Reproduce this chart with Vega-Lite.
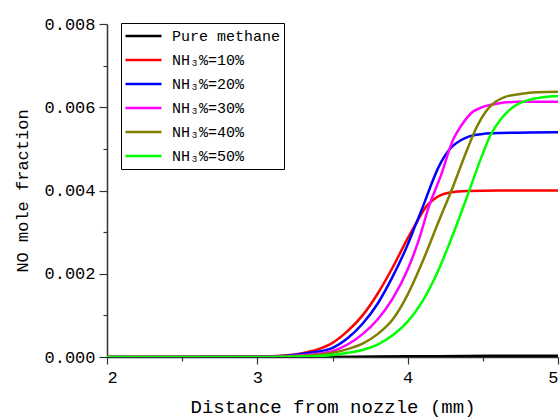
{
  "$schema": "https://vega.github.io/schema/vega-lite/v6.json",
  "width": 451,
  "height": 333,
  "autosize": "none",
  "padding": {"left": 107, "top": 24, "right": 2, "bottom": 60},
  "background": "white",
  "config": {"view": {"stroke": null}, "font": "Liberation Mono"},
  "data": {"values": [
    {"s": "Pure methane", "x": 2, "y": 0}, {"s": "Pure methane", "x": 3.4, "y": 0.000002}, {"s": "Pure methane", "x": 3.8, "y": 0.00001}, {"s": "Pure methane", "x": 4.2, "y": 0.00002}, {"s": "Pure methane", "x": 4.6, "y": 0.00003}, {"s": "Pure methane", "x": 5, "y": 0.00003},

    {"s": "NH₃%=10%", "x": 2, "y": 0}, {"s": "NH₃%=10%", "x": 3.0, "y": 0.00001}, {"s": "NH₃%=10%", "x": 3.2, "y": 0.00004}, {"s": "NH₃%=10%", "x": 3.3, "y": 0.00009}, {"s": "NH₃%=10%", "x": 3.4, "y": 0.00018}, {"s": "NH₃%=10%", "x": 3.5, "y": 0.00034}, {"s": "NH₃%=10%", "x": 3.6, "y": 0.00062}, {"s": "NH₃%=10%", "x": 3.7, "y": 0.001}, {"s": "NH₃%=10%", "x": 3.8, "y": 0.00152}, {"s": "NH₃%=10%", "x": 3.9, "y": 0.00215}, {"s": "NH₃%=10%", "x": 4.0, "y": 0.00285}, {"s": "NH₃%=10%", "x": 4.07, "y": 0.0033}, {"s": "NH₃%=10%", "x": 4.12, "y": 0.0036}, {"s": "NH₃%=10%", "x": 4.17, "y": 0.00378}, {"s": "NH₃%=10%", "x": 4.22, "y": 0.00389}, {"s": "NH₃%=10%", "x": 4.28, "y": 0.00395}, {"s": "NH₃%=10%", "x": 4.4, "y": 0.00399}, {"s": "NH₃%=10%", "x": 4.6, "y": 0.004}, {"s": "NH₃%=10%", "x": 5, "y": 0.004},

    {"s": "NH₃%=20%", "x": 2, "y": 0}, {"s": "NH₃%=20%", "x": 3.0, "y": 0.000005}, {"s": "NH₃%=20%", "x": 3.2, "y": 0.00003}, {"s": "NH₃%=20%", "x": 3.35, "y": 0.0001}, {"s": "NH₃%=20%", "x": 3.5, "y": 0.00022}, {"s": "NH₃%=20%", "x": 3.6, "y": 0.00045}, {"s": "NH₃%=20%", "x": 3.7, "y": 0.0008}, {"s": "NH₃%=20%", "x": 3.8, "y": 0.00128}, {"s": "NH₃%=20%", "x": 3.9, "y": 0.00193}, {"s": "NH₃%=20%", "x": 4.0, "y": 0.0027}, {"s": "NH₃%=20%", "x": 4.05, "y": 0.00315}, {"s": "NH₃%=20%", "x": 4.1, "y": 0.0036}, {"s": "NH₃%=20%", "x": 4.15, "y": 0.00408}, {"s": "NH₃%=20%", "x": 4.2, "y": 0.00452}, {"s": "NH₃%=20%", "x": 4.25, "y": 0.00485}, {"s": "NH₃%=20%", "x": 4.3, "y": 0.00507}, {"s": "NH₃%=20%", "x": 4.35, "y": 0.0052}, {"s": "NH₃%=20%", "x": 4.41, "y": 0.0053}, {"s": "NH₃%=20%", "x": 4.5, "y": 0.00536}, {"s": "NH₃%=20%", "x": 4.61, "y": 0.00538}, {"s": "NH₃%=20%", "x": 5, "y": 0.0054},

    {"s": "NH₃%=30%", "x": 2, "y": 0}, {"s": "NH₃%=30%", "x": 3.0, "y": 0.000003}, {"s": "NH₃%=30%", "x": 3.2, "y": 0.00002}, {"s": "NH₃%=30%", "x": 3.35, "y": 0.00006}, {"s": "NH₃%=30%", "x": 3.5, "y": 0.00014}, {"s": "NH₃%=30%", "x": 3.6, "y": 0.0003}, {"s": "NH₃%=30%", "x": 3.7, "y": 0.00055}, {"s": "NH₃%=30%", "x": 3.8, "y": 0.0009}, {"s": "NH₃%=30%", "x": 3.9, "y": 0.0014}, {"s": "NH₃%=30%", "x": 4.0, "y": 0.0021}, {"s": "NH₃%=30%", "x": 4.08, "y": 0.00288}, {"s": "NH₃%=30%", "x": 4.14, "y": 0.0036}, {"s": "NH₃%=30%", "x": 4.22, "y": 0.00435}, {"s": "NH₃%=30%", "x": 4.3, "y": 0.0052}, {"s": "NH₃%=30%", "x": 4.36, "y": 0.00558}, {"s": "NH₃%=30%", "x": 4.42, "y": 0.00585}, {"s": "NH₃%=30%", "x": 4.5, "y": 0.00601}, {"s": "NH₃%=30%", "x": 4.6, "y": 0.00609}, {"s": "NH₃%=30%", "x": 4.73, "y": 0.00613}, {"s": "NH₃%=30%", "x": 5, "y": 0.00613},

    {"s": "NH₃%=40%", "x": 2, "y": 0}, {"s": "NH₃%=40%", "x": 3.1, "y": 0.000003}, {"s": "NH₃%=40%", "x": 3.3, "y": 0.00003}, {"s": "NH₃%=40%", "x": 3.5, "y": 0.0001}, {"s": "NH₃%=40%", "x": 3.6, "y": 0.00019}, {"s": "NH₃%=40%", "x": 3.7, "y": 0.00032}, {"s": "NH₃%=40%", "x": 3.8, "y": 0.00055}, {"s": "NH₃%=40%", "x": 3.9, "y": 0.0009}, {"s": "NH₃%=40%", "x": 4.0, "y": 0.0015}, {"s": "NH₃%=40%", "x": 4.1, "y": 0.0023}, {"s": "NH₃%=40%", "x": 4.2, "y": 0.0032}, {"s": "NH₃%=40%", "x": 4.3, "y": 0.00408}, {"s": "NH₃%=40%", "x": 4.4, "y": 0.00502}, {"s": "NH₃%=40%", "x": 4.46, "y": 0.00553}, {"s": "NH₃%=40%", "x": 4.52, "y": 0.0059}, {"s": "NH₃%=40%", "x": 4.58, "y": 0.00612}, {"s": "NH₃%=40%", "x": 4.65, "y": 0.00625}, {"s": "NH₃%=40%", "x": 4.75, "y": 0.00632}, {"s": "NH₃%=40%", "x": 4.86, "y": 0.00636}, {"s": "NH₃%=40%", "x": 5, "y": 0.00637},

    {"s": "NH₃%=50%", "x": 2, "y": 0}, {"s": "NH₃%=50%", "x": 3.1, "y": 0.000002}, {"s": "NH₃%=50%", "x": 3.3, "y": 0.00001}, {"s": "NH₃%=50%", "x": 3.5, "y": 0.00005}, {"s": "NH₃%=50%", "x": 3.6, "y": 0.0001}, {"s": "NH₃%=50%", "x": 3.7, "y": 0.00017}, {"s": "NH₃%=50%", "x": 3.8, "y": 0.0003}, {"s": "NH₃%=50%", "x": 3.9, "y": 0.00052}, {"s": "NH₃%=50%", "x": 4.0, "y": 0.00085}, {"s": "NH₃%=50%", "x": 4.1, "y": 0.00135}, {"s": "NH₃%=50%", "x": 4.2, "y": 0.00205}, {"s": "NH₃%=50%", "x": 4.3, "y": 0.00293}, {"s": "NH₃%=50%", "x": 4.4, "y": 0.0039}, {"s": "NH₃%=50%", "x": 4.48, "y": 0.0047}, {"s": "NH₃%=50%", "x": 4.55, "y": 0.00532}, {"s": "NH₃%=50%", "x": 4.62, "y": 0.00572}, {"s": "NH₃%=50%", "x": 4.7, "y": 0.006}, {"s": "NH₃%=50%", "x": 4.8, "y": 0.00617}, {"s": "NH₃%=50%", "x": 4.9, "y": 0.00624}, {"s": "NH₃%=50%", "x": 5, "y": 0.00627}
  ]},
  "mark": {"type": "line", "interpolate": "monotone", "strokeWidth": 2.5, "clip": true},
  "encoding": {
    "x": {"field": "x", "type": "quantitative",
      "scale": {"domain": [2, 5], "nice": false, "zero": false},
      "axis": {"values": [2, 2.5, 3, 3.5, 4, 4.5, 5], "labelExpr": "datum.value % 1 === 0 ? format(datum.value, 'd') : ''",
        "title": "Distance from nozzle (mm)", "titleFont": "Liberation Mono", "titleFontSize": 19, "titleFontWeight": "normal", "titleColor": "#000", "titlePadding": 12,
        "labelFont": "Liberation Mono", "labelFontSize": 17, "labelColor": "#000", "labelPadding": 5,
        "grid": false, "domainColor": "#333", "domainWidth": 1.5, "tickColor": "#333", "tickWidth": 1.2,
        "tickSize": {"condition": {"test": "datum.value % 1 === 0", "value": 7}, "value": 4}}},
    "y": {"field": "y", "type": "quantitative",
      "scale": {"domain": [0, 0.008], "nice": false},
      "axis": {"values": [0, 0.001, 0.002, 0.003, 0.004, 0.005, 0.006, 0.007, 0.008],
        "labelExpr": "round(datum.value*1000) % 2 === 0 ? format(datum.value, '.3f') : ''",
        "title": "NO mole fraction", "titleFont": "Liberation Mono", "titleFontSize": 17, "titleFontWeight": "normal", "titleColor": "#000", "titlePadding": 12,
        "labelFont": "Liberation Mono", "labelFontSize": 17, "labelColor": "#000", "labelPadding": 4,
        "grid": false, "domainColor": "#333", "domainWidth": 1.5, "tickColor": "#333", "tickWidth": 1.2,
        "tickSize": {"condition": {"test": "round(datum.value*1000) % 2 === 0", "value": 8}, "value": 4}}},
    "color": {"field": "s", "type": "nominal", "sort": null,
      "scale": {"domain": ["Pure methane", "NH₃%=10%", "NH₃%=20%", "NH₃%=30%", "NH₃%=40%", "NH₃%=50%"],
        "range": ["#000000", "#ff0000", "#0000ff", "#ff00ff", "#808000", "#00ff00"]},
      "legend": {"title": null, "orient": "none", "legendX": 14, "legendY": -1,
        "strokeColor": "#000", "padding": 3, "symbolType": "stroke", "symbolSize": 1296, "symbolStrokeWidth": 2.5,
        "labelFont": "Liberation Mono", "labelFontSize": 15, "labelColor": "#000", "labelOffset": 9,
        "clipHeight": 20, "rowPadding": 4, "fillColor": "white"}}
  }
}
